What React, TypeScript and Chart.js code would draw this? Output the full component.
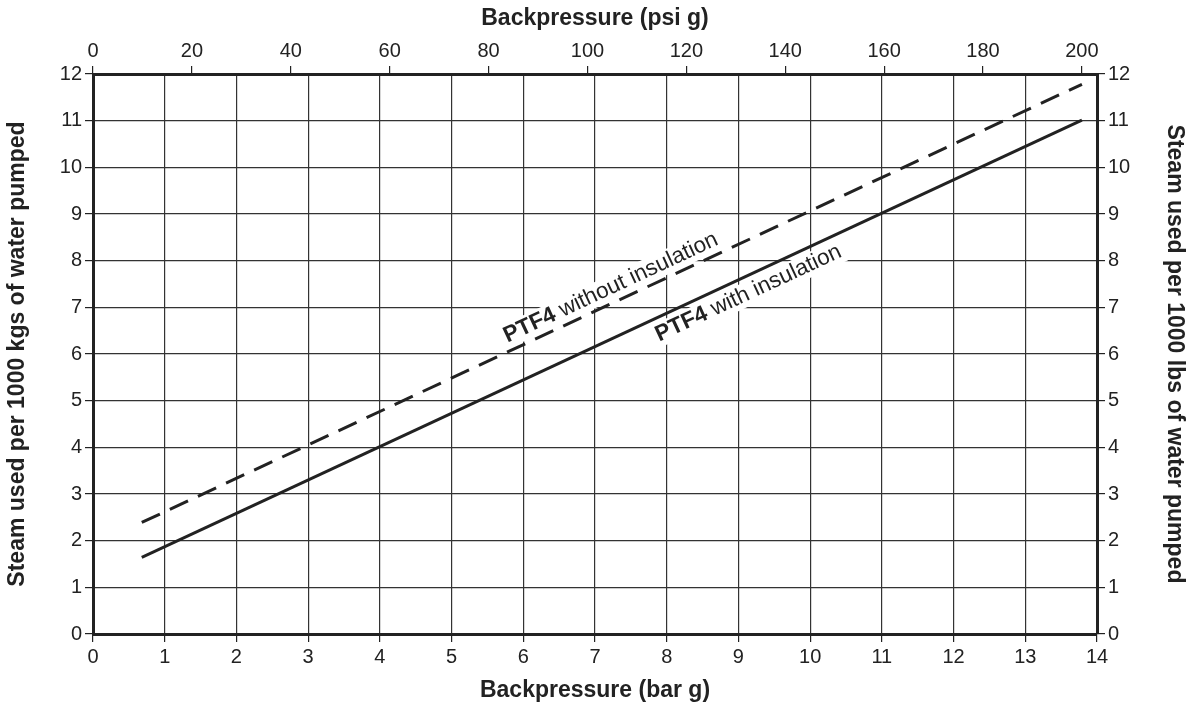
import React, { useEffect, useRef } from "react";
import { Chart, registerables } from "chart.js";

Chart.register(...registerables);

// Data
const barRange = [0.68, 13.79]; // backpressure (bar g) at line ends
const withInsulation = [1.64, 11.01];
const withoutInsulation = [2.39, 11.78];
const psiMax = 14 * 14.5038;
const seriesNames = ["PTF4 with insulation", "PTF4 without insulation"];
const labelBold = "PTF4";
const labelWith = " with insulation";
const labelWithout = " without insulation";
// label centres in data coords (bar, steam)
const labelWithPos = [9.14, 7.3];
const labelWithoutPos = [7.22, 7.42];

const FONT = "'Liberation Sans', Arial, Helvetica, sans-serif";
const INK = "#222";
const LABEL_SIZE = 22.5;

const lineLabels = {
  id: "lineLabels",
  beforeDatasetsDraw(chart: any) {
    const ctx = chart.ctx;
    const xs = chart.scales.x;
    const ys = chart.scales.y;
    const draw = (pos: number[], rest: string, series: number[]) => {
      const x1 = xs.getPixelForValue(barRange[0]);
      const x2 = xs.getPixelForValue(barRange[1]);
      const y1 = ys.getPixelForValue(series[0]);
      const y2 = ys.getPixelForValue(series[1]);
      const ang = Math.atan2(y2 - y1, x2 - x1);
      const cx = xs.getPixelForValue(pos[0]);
      const cy = ys.getPixelForValue(pos[1]);
      ctx.save();
      ctx.translate(cx, cy);
      ctx.rotate(ang);
      ctx.font = `bold ${LABEL_SIZE}px ${FONT}`;
      const wb = ctx.measureText(labelBold).width;
      ctx.font = `${LABEL_SIZE}px ${FONT}`;
      const wr = ctx.measureText(rest).width;
      const w = wb + wr;
      ctx.fillStyle = "#fff";
      ctx.fillRect(-w / 2 - 3, -12, w + 6, 24);
      ctx.textBaseline = "middle";
      ctx.textAlign = "left";
      ctx.fillStyle = INK;
      ctx.font = `bold ${LABEL_SIZE}px ${FONT}`;
      ctx.fillText(labelBold, -w / 2, 0);
      ctx.font = `${LABEL_SIZE}px ${FONT}`;
      ctx.fillText(rest, -w / 2 + wb, 0);
      ctx.restore();
    };
    draw(labelWithoutPos, labelWithout, withoutInsulation);
    draw(labelWithPos, labelWith, withInsulation);
  },
};

export default function App() {
  const ref = useRef<HTMLCanvasElement>(null);
  useEffect(() => {
    if (!ref.current) return;
    const tickFont = { family: FONT, size: 20 };
    const titleFont = { family: FONT, size: 23, weight: "bold" as const };
    const chart = new Chart(ref.current, {
      type: "line",
      data: {
        datasets: [
          {
            label: seriesNames[0],
            data: barRange.map((b, i) => ({ x: b, y: withInsulation[i] })),
            borderColor: INK,
            borderWidth: 3,
            pointRadius: 0,
            fill: false,
            xAxisID: "x",
            yAxisID: "y",
          },
          {
            label: seriesNames[1],
            data: barRange.map((b, i) => ({ x: b, y: withoutInsulation[i] })),
            borderColor: INK,
            borderWidth: 3,
            borderDash: [20, 11],
            pointRadius: 0,
            fill: false,
            xAxisID: "x",
            yAxisID: "y",
          },
        ],
      },
      options: {
        animation: false,
        responsive: true,
        maintainAspectRatio: false,
        layout: { padding: 0 },
        plugins: { legend: { display: false }, tooltip: { enabled: false } },
        scales: {
          x: {
            type: "linear",
            position: "bottom",
            min: 0,
            max: 14,
            ticks: { stepSize: 1, color: INK, font: tickFont, padding: 3, maxRotation: 0 },
            grid: { color: "#333", lineWidth: 1.2, tickLength: 8, tickColor: INK },
            border: { display: true, color: INK, width: 3 },
            title: { display: true, text: "Backpressure (bar g)", color: INK, font: titleFont, padding: { top: 4, bottom: 5 } },
            afterFit: (s: any) => { s.height = 75; },
          },
          x2: {
            type: "linear",
            position: "top",
            min: 0,
            max: psiMax,
            afterBuildTicks: (s: any) => {
              const t = [];
              for (let v = 0; v <= 200; v += 20) t.push({ value: v });
              s.ticks = t;
            },
            ticks: { color: INK, font: tickFont, padding: 3, maxRotation: 0 },
            grid: { drawOnChartArea: false, tickLength: 8, tickColor: INK, lineWidth: 1.2 },
            border: { display: true, color: INK, width: 3 },
            title: { display: true, text: "Backpressure (psi g)", color: INK, font: titleFont, padding: { top: 5, bottom: 4 } },
            afterFit: (s: any) => { s.height = 74; },
          },
          y: {
            type: "linear",
            position: "left",
            min: 0,
            max: 12,
            ticks: { stepSize: 1, color: INK, font: tickFont, padding: 3 },
            grid: { color: "#333", lineWidth: 1.2, tickLength: 8, tickColor: INK },
            border: { display: true, color: INK, width: 3 },
            title: { display: true, text: "Steam used per 1000 kgs of water pumped", color: INK, font: titleFont, padding: { top: 4, bottom: 4 } },
            afterFit: (s: any) => { s.width = 93; },
          },
          y2: {
            type: "linear",
            position: "right",
            min: 0,
            max: 12,
            ticks: { stepSize: 1, color: INK, font: tickFont, padding: 3 },
            grid: { drawOnChartArea: false, tickLength: 8, tickColor: INK, lineWidth: 1.2 },
            border: { display: true, color: INK, width: 3 },
            title: { display: true, text: "Steam used per 1000 lbs of water pumped", color: INK, font: titleFont, padding: { top: 4, bottom: 4 } },
            afterFit: (s: any) => { s.width = 95; },
          },
        },
      } as any,
      plugins: [lineLabels],
    });
    return () => chart.destroy();
  }, []);
  return (
    <div style={{ position: "absolute", left: 0, top: 0, width: 1192, height: 709, background: "#fff" }}>
      <canvas ref={ref} />
    </div>
  );
}
